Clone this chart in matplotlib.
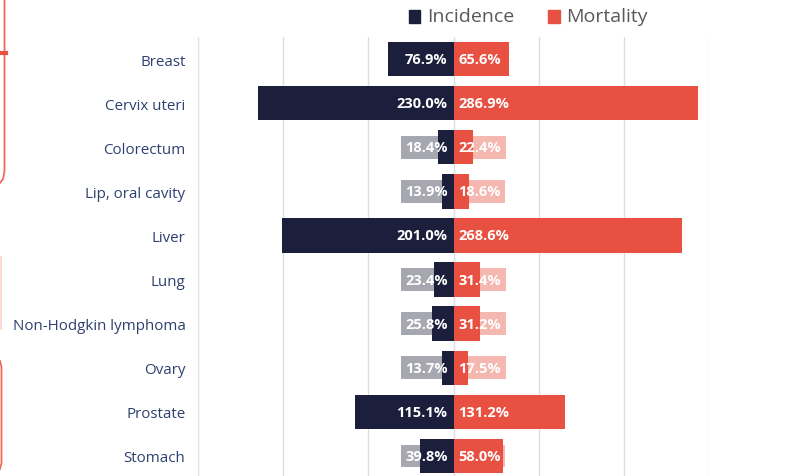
import matplotlib.pyplot as plt
from matplotlib.lines import Line2D
from matplotlib.patches import Rectangle

cancers = ['Breast', 'Cervix uteri', 'Colorectum', 'Lip, oral cavity', 'Liver',
           'Lung', 'Non-Hodgkin lymphoma', 'Ovary', 'Prostate', 'Stomach']
incidence = [76.9, 230.0, 18.4, 13.9, 201.0, 23.4, 25.8, 13.7, 115.1, 39.8]
mortality = [65.6, 286.9, 22.4, 18.6, 268.6, 31.4, 31.2, 17.5, 131.2, 58.0]

navy = '#1b1f3b'
red = '#e85142'
plt.rcParams['font.family'] = ['Open Sans', 'DejaVu Sans']

fig = plt.figure(figsize=(7.9, 4.77), dpi=100)
ax = fig.add_axes([198/790, -2/477, 511/790, 441/477])

y = list(range(len(cancers)))
ax.barh(y, [-v for v in incidence], height=0.78, color=navy, zorder=2)
ax.barh(y, mortality, height=0.78, color=red, zorder=2)

fs = 10.5
for i in y:
    t = '%.1f%%' % incidence[i]
    ax.text(-7, i, t, ha='right', va='center', fontsize=fs, fontweight='bold',
            color=(0, 0, 0, 0), zorder=1,
            bbox=dict(boxstyle='square,pad=0.3', fc='#a6a7b1', ec='none'))
    ax.text(-7, i, t, ha='right', va='center', fontsize=fs, fontweight='bold',
            color='white', zorder=3)
    t = '%.1f%%' % mortality[i]
    ax.text(6, i, t, ha='left', va='center', fontsize=fs, fontweight='bold',
            color=(0, 0, 0, 0), zorder=1,
            bbox=dict(boxstyle='square,pad=0.3', fc='#f5b8b1', ec='none'))
    ax.text(6, i, t, ha='left', va='center', fontsize=fs, fontweight='bold',
            color='white', zorder=3)

ax.set_xlim(-300, 300)
ax.set_ylim(9.5, -0.5)
ax.set_xticks([-300, -200, -100, 0, 100, 200, 300])
ax.set_xticklabels([])
ax.grid(axis='x', color='#dedede', linewidth=1, zorder=0)
ax.set_yticks(y)
ax.set_yticklabels(cancers, fontsize=10.9, color='#2e4070')
ax.tick_params(length=0, pad=9)
for s in ax.spines.values():
    s.set_visible(False)

# legend
fig.patches.append(Rectangle((409/790, 1 - 24/477), 11/790, 13/477, color=navy,
                             transform=fig.transFigure))
fig.text(427/790, 1 - 17/477, 'Incidence', fontsize=14, color='#595959', va='center')
fig.patches.append(Rectangle((548/790, 1 - 24/477), 12/790, 13/477, color=red,
                             transform=fig.transFigure))
fig.text(566/790, 1 - 17/477, 'Mortality', fontsize=14, color='#595959', va='center')

# cropped decorations at left edge
def fl(xs, ys, **kw):
    fig.add_artist(Line2D([v/790 for v in xs], [1 - v/477 for v in ys],
                          transform=fig.transFigure, **kw))

fl([4.5, 4.5, 3, 0], [0, 172, 180, 184], color='#ee6a5c', lw=1.3)
fl([0, 6], [53.5, 53.5], color='#e85142', lw=3)
fl([0.5, 0.5], [258, 330], color='#fbd3ce', lw=1.2)
fl([0, 1.5, 1.5, 0], [362, 368, 464, 470], color='#ee6a5c', lw=1.3)

fig.savefig('out.png', dpi=100)
